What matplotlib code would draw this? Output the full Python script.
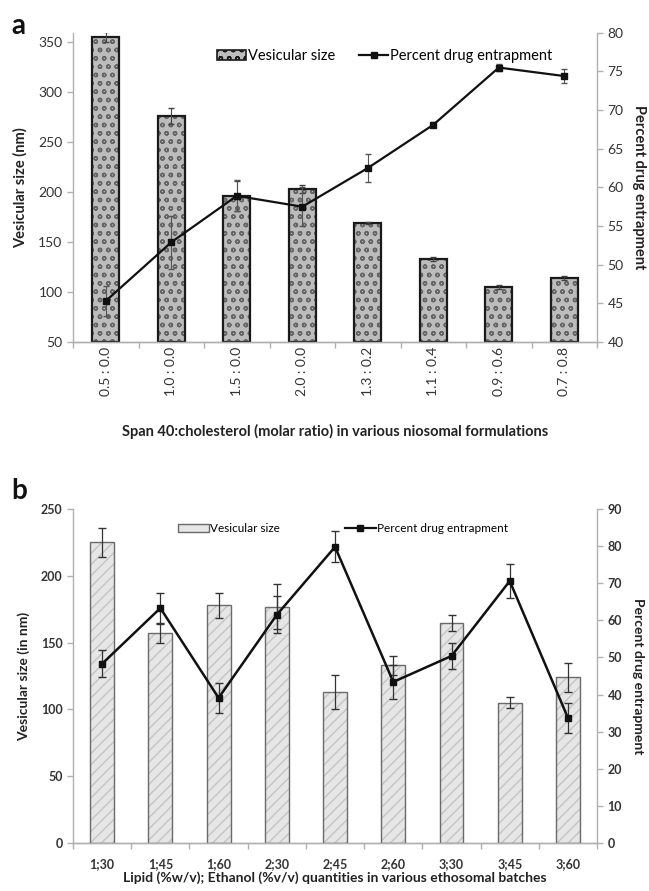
import numpy as np
import matplotlib
matplotlib.use("Agg")
import matplotlib.pyplot as plt
from matplotlib.lines import Line2D
from matplotlib.patches import Patch

plt.rcParams['font.family'] = ['Lato', 'DejaVu Sans']

# panel a data
cats_a = ['0.5 : 0.0', '1.0 : 0.0', '1.5 : 0.0', '2.0 : 0.0', '1.3 : 0.2', '1.1 : 0.4', '0.9 : 0.6', '0.7 : 0.8']
size_a = [355, 276, 196, 203, 169, 133, 105, 114]
size_err_a = [5, 8, 15, 4, 1, 2, 2, 2]
pde_a = [45.3, 52.9, 58.9, 57.5, 62.5, 68.1, 75.5, 74.4]
pde_err_a = [1.9, 3.4, 2.0, 2.5, 1.8, 0.3, 0.4, 0.9]

# panel b data
cats_b = ['1;30', '1;45', '1;60', '2;30', '2;45', '2;60', '3;30', '3;45', '3;60']
size_b = [225, 157, 178, 177, 113, 133, 165, 105, 124]
size_err_b = [11, 7.5, 9.5, 17, 12.5, 7, 6, 4, 11]
pde_b = [48.3, 63.3, 39.1, 61.5, 79.8, 43.4, 50.4, 70.6, 33.7]
pde_err_b = [3.6, 4.2, 4.0, 5.0, 4.2, 4.6, 3.4, 4.6, 4.0]

fig = plt.figure(figsize=(6.49, 8.91), dpi=100)

spine_col = '#b0b0b0'
txt_col = '#333333'


def style_axes(ax, ax2, n):
    for a in (ax, ax2):
        a.spines['top'].set_visible(False)
        for s in ('left', 'right', 'bottom'):
            a.spines[s].set_color(spine_col)
            a.spines[s].set_linewidth(1.0)
        a.tick_params(axis='y', colors=spine_col, labelcolor=txt_col, length=4, width=1)
    ax2.spines['left'].set_visible(False)
    ax.spines['right'].set_visible(False)
    ax.set_xlim(-0.5, n - 0.5)
    ax.set_xticks(np.arange(n))
    ax.set_xticks(np.arange(n + 1) - 0.5, minor=True)
    ax.tick_params(axis='x', which='major', length=0, labelcolor=txt_col)
    ax.tick_params(axis='x', which='minor', length=4, color=spine_col, width=1)


# ---------- panel a ----------
ax = fig.add_axes([0.1125, 0.6162, 0.8075, 0.347])
ax2 = ax.twinx()
x = np.arange(len(cats_a))
ax.bar(x, np.array(size_a) - 50, bottom=50, width=0.41, color='#bcbcbc',
       edgecolor='#666666', hatch='oo', linewidth=0, zorder=2)
ax.bar(x, np.array(size_a) - 50, bottom=50, width=0.41, fill=False,
       edgecolor='#1a1a1a', linewidth=1.6, zorder=3)
ax.errorbar(x, size_a, yerr=size_err_a, fmt='none', ecolor='#444444',
            elinewidth=0.8, capsize=2.5, zorder=4)
ax.set_ylim(50, 359)
ax.set_yticks(np.arange(50, 351, 50))
ax.set_xticklabels(cats_a, rotation=90, fontsize=10)
ax.tick_params(axis='y', labelsize=10)

ax2.errorbar(x, pde_a, yerr=pde_err_a, color='#111111', marker='s', markersize=5,
             linewidth=1.6, ecolor='#555555', elinewidth=0.8, capsize=2.5, zorder=5)
ax2.set_ylim(40, 80)
ax2.set_yticks(np.arange(40, 81, 5))
ax2.tick_params(axis='y', labelsize=10)
style_axes(ax, ax2, len(cats_a))

ax.set_ylabel('Vesicular size (nm)', fontsize=10.5, fontweight='bold', color='#222222', labelpad=8)
ax2.set_ylabel('Percent drug entrapment', fontsize=10.5, fontweight='bold', color='#222222',
               rotation=270, labelpad=16)
ax.set_xlabel('Span 40:cholesterol (molar ratio) in various niosomal formulations',
              fontsize=10.5, fontweight='bold', color='#222222', labelpad=20)

handles_a = [Patch(facecolor='#bcbcbc', edgecolor='#1a1a1a', hatch='oo', linewidth=1.2),
             Line2D([0], [0], color='#111111', marker='s', markersize=5, linewidth=1.6)]
ax2.legend(handles_a, ['Vesicular size', 'Percent drug entrapment'], loc='upper center',
           bbox_to_anchor=(0.595, 0.99), ncol=2, frameon=False, fontsize=10.5,
           handlelength=2.0, handletextpad=0.15, columnspacing=1.6)
fig.text(0.018, 0.962, 'a', fontsize=20, fontweight='bold', color='#111111')

# ---------- panel b ----------
bx = fig.add_axes([0.1125, 0.0539, 0.8075, 0.3748])
bx2 = bx.twinx()
xb = np.arange(len(cats_b))
bx.bar(xb, size_b, width=0.41, color='#e6e6e6', edgecolor='#c4c4c4', hatch='///',
       linewidth=0, zorder=2)
bx.bar(xb, size_b, width=0.41, fill=False, edgecolor='#6a6a6a', linewidth=1.0, zorder=3)
bx.errorbar(xb, size_b, yerr=size_err_b, fmt='none', ecolor='#333333',
            elinewidth=0.9, capsize=3, zorder=4)
bx.set_ylim(0, 250)
bx.set_yticks(np.arange(0, 251, 50))
bx.set_xticklabels(cats_b, fontsize=9, fontweight='bold')
for lab in bx.get_yticklabels():
    lab.set_fontweight('bold')
bx.tick_params(axis='y', labelsize=9)

bx2.errorbar(xb, pde_b, yerr=pde_err_b, color='#111111', marker='s', markersize=5,
             linewidth=1.8, ecolor='#333333', elinewidth=0.9, capsize=3, zorder=5)
bx2.set_ylim(0, 90)
bx2.set_yticks(np.arange(0, 91, 10))
bx2.tick_params(axis='y', labelsize=9)
for lab in bx2.get_yticklabels():
    lab.set_fontweight('bold')
style_axes(bx, bx2, len(cats_b))
bx.tick_params(axis='x', which='major', pad=11)

bx.set_ylabel('Vesicular size (in nm)', fontsize=10, fontweight='bold', color='#222222', labelpad=8)
bx2.set_ylabel('Percent drug entrapment', fontsize=10, fontweight='bold', color='#222222',
               rotation=270, labelpad=16)
bx.set_xlabel('Lipid (%w/v); Ethanol (%v/v) quantities in various ethosomal batches',
              fontsize=10, fontweight='bold', color='#222222', labelpad=1)

handles_b = [Patch(facecolor='#e6e6e6', edgecolor='#6a6a6a', linewidth=1.0),
             Line2D([0], [0], color='#111111', marker='s', markersize=4, linewidth=1.6)]
bx2.legend(handles_b, ['Vesicular size', 'Percent drug entrapment'], loc='upper center',
           bbox_to_anchor=(0.515, 0.99), ncol=2, frameon=False, fontsize=8.5,
           handlelength=2.6, handletextpad=0.1, columnspacing=5.5)
fig.text(0.018, 0.44, 'b', fontsize=20, fontweight='bold', color='#111111')

fig.savefig('out.png', dpi=100)
